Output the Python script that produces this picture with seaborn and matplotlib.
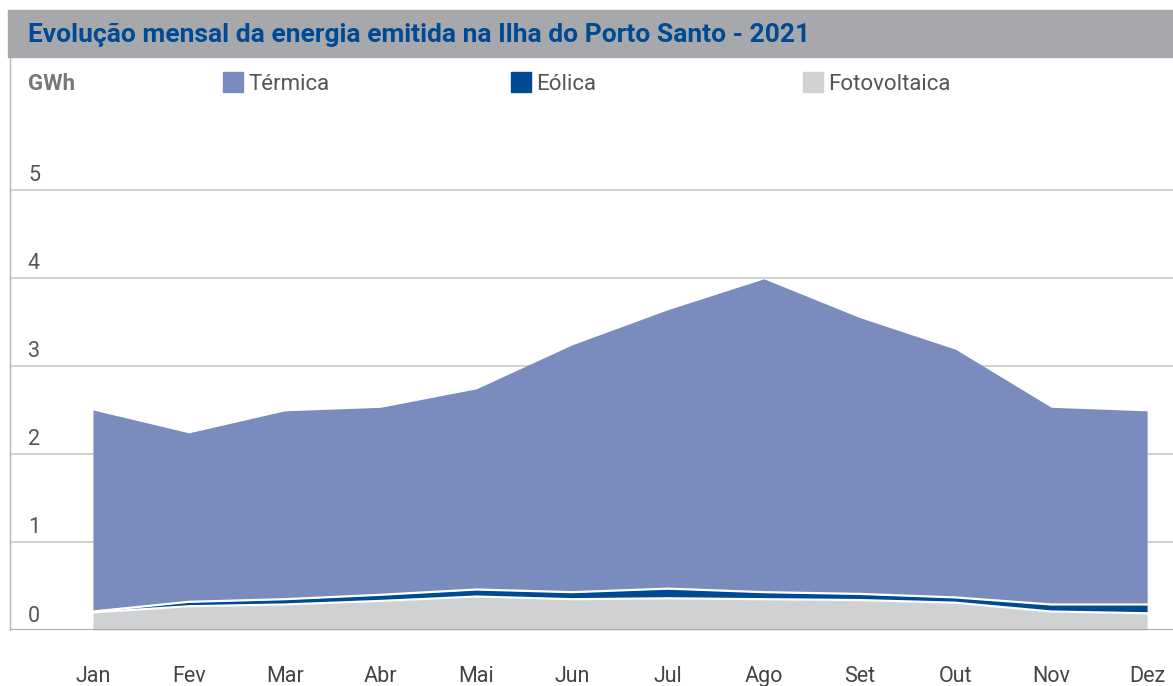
import matplotlib.pyplot as plt
import numpy as np
import seaborn as sns
from matplotlib.patches import Rectangle
from matplotlib.transforms import offset_copy

months = ["Jan", "Fev", "Mar", "Abr", "Mai", "Jun", "Jul", "Ago", "Set", "Out", "Nov", "Dez"]
# GWh
fotovoltaica = [0.20, 0.27, 0.29, 0.33, 0.38, 0.35, 0.36, 0.35, 0.34, 0.31, 0.21, 0.19]
eolica = [0.01, 0.05, 0.06, 0.07, 0.08, 0.08, 0.11, 0.08, 0.07, 0.06, 0.08, 0.10]
total = [2.50, 2.24, 2.49, 2.53, 2.74, 3.24, 3.64, 3.99, 3.55, 3.19, 2.53, 2.49]
termica = [t - f - e for t, f, e in zip(total, fotovoltaica, eolica)]
yticks = [0, 1, 2, 3, 4, 5]

C_TERM = "#7A8BBD"
C_EOL = "#004A93"
C_FOTO = "#D0D1D3"
C_HEAD = "#A7A8AC"
C_TEXT = "#555555"

sns.set_theme(style="white")
plt.rcParams["font.family"] = ["Roboto", "DejaVu Sans"]

W, H = 1173, 686
fig = plt.figure(figsize=(W / 100, H / 100), dpi=100)
ax = fig.add_axes([10 / W, 1 - 630 / H, 1 - 10 / W, (630 - 57) / H])

x = np.arange(len(months))
ax.stackplot(x, fotovoltaica, eolica, termica,
             colors=[C_FOTO, C_EOL, C_TERM], linewidth=0, zorder=2)
# white separators between layers
lvl1 = np.array(fotovoltaica)
lvl2 = lvl1 + np.array(eolica)
sns.lineplot(x=x, y=lvl1, color="white", lw=1.6, ax=ax, zorder=3)
sns.lineplot(x=x, y=lvl2, color="white", lw=1.6, ax=ax, zorder=3)

ax.set_xlim(-0.866, 11.27)
ax.set_ylim(0, 6.51)

for v in yticks[1:]:
    ax.axhline(v, color="#C4C4C4", lw=1.1, zorder=1)
ax.axhline(0, color="#A9A9AE", lw=2.2, zorder=4)

ax.set_yticks([])
ax.set_ylabel("")
ax.set_xticks(x)
ax.set_xticklabels(months, fontsize=15.5, color="#444444")
ax.tick_params(axis="x", length=0, pad=26)

for v in yticks:
    tr = offset_copy(ax.get_yaxis_transform(), fig=fig, x=0, y=14, units="dots")
    ax.text(18 / (W - 10), v, str(v), transform=tr, ha="left", va="center",
            fontsize=15.5, color=C_TEXT)

for side in ["top", "right", "bottom"]:
    ax.spines[side].set_visible(False)
ax.spines["left"].set_color("#B5B5B5")
ax.spines["left"].set_linewidth(1.0)

# header band
fig.patches.append(Rectangle((8 / W, 1 - 57 / H), 1 - 8 / W, 47 / H,
                             transform=fig.transFigure, color=C_HEAD, zorder=0))
fig.text(28 / W, 1 - 35 / H, "Evolução mensal da energia emitida na Ilha do Porto Santo - 2021",
         fontsize=19, fontweight="bold", color=C_EOL, va="center", ha="left")

# legend row
fig.text(28 / W, 1 - 84 / H, "GWh", fontsize=16, fontweight="bold", color="#777777",
         va="center", ha="left")
for x0, label, col in [(223, "Térmica", C_TERM), (511, "Eólica", C_EOL), (803, "Fotovoltaica", C_FOTO)]:
    fig.patches.append(Rectangle((x0 / W, 1 - 92 / H), 20 / W, 20 / H,
                                 transform=fig.transFigure, color=col))
    fig.text((x0 + 25) / W, 1 - 84 / H, label, fontsize=16, color=C_TEXT,
             va="center", ha="left")

fig.savefig("out.png", dpi=100)
